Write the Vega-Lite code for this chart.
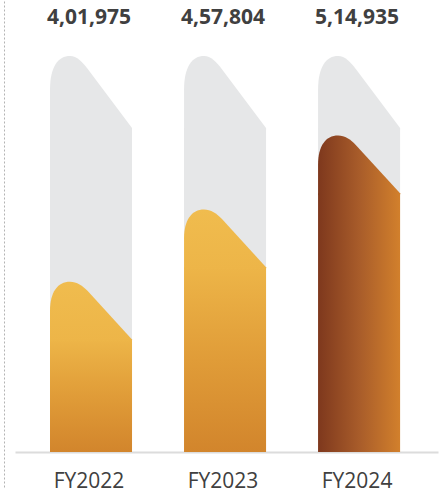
{
  "$schema": "https://vega.github.io/schema/vega-lite/v6.json",
  "autosize": "none",
  "padding": {"left": 15, "top": 0, "right": 8, "bottom": 5},
  "width": 423,
  "height": 487,
  "background": "#ffffff",
  "config": {
    "view": {"stroke": null},
    "locale": {"number": {"decimal": ".", "thousands": ",", "grouping": [3, 2], "currency": ["₹", ""]}}
  },
  "data": {
    "values": [
      {"year": "FY2022", "value": 401975},
      {"year": "FY2023", "value": 457804},
      {"year": "FY2024", "value": 514935}
    ]
  },
  "encoding": {
    "x": {
      "field": "year",
      "type": "nominal",
      "title": null,
      "scale": {"paddingInner": 0.388, "paddingOuter": 0.272, "align": 0.48},
      "axis": {
        "orient": "bottom",
        "offset": -35,
        "ticks": false,
        "domainColor": "#DCDCDC",
        "domainWidth": 2,
        "labelAngle": 0,
        "labelFont": "Open Sans",
        "labelFontSize": 21,
        "labelColor": "#404040",
        "labelBaseline": "alphabetic",
        "labelPadding": 35,
        "labelOffset": -2
      }
    }
  },
  "layer": [
    {
      "mark": {"type": "bar", "color": "#E6E7E8"},
      "encoding": {
        "y": {
          "datum": 565400,
          "type": "quantitative",
          "title": null,
          "scale": {"domain": [288000, 664300], "zero": false, "nice": false},
          "axis": {
            "orient": "left",
            "offset": 11,
            "labels": false,
            "ticks": false,
            "grid": false,
            "title": null,
            "domainDash": [2, 2],
            "domainColor": "#B3B3B3",
            "domainWidth": 1
          }
        },
        "y2": {"datum": 315000}
      }
    },
    {
      "mark": {
        "type": "point",
        "shape": "M-1,0.05 L-1,-0.93 C-1,-1.5 -0.8,-1.756 -0.51,-1.756 C-0.35,-1.756 -0.2,-1.6 -0.08,-1.44 L1,0 L1,0.05 Z",
        "size": 6724,
        "filled": true,
        "opacity": 1,
        "strokeWidth": 0,
        "color": "#E6E7E8"
      },
      "encoding": {
        "y": {"datum": 565400, "type": "quantitative"}
      }
    },
    {
      "transform": [{"filter": "datum.year !== 'FY2024'"}],
      "mark": {
        "type": "bar",
        "color": {
          "gradient": "linear", "x1": 0, "y1": 0, "x2": 0, "y2": 1,
          "stops": [
            {"offset": 0, "color": "#EDB548"},
            {"offset": 0.5, "color": "#E09C38"},
            {"offset": 1, "color": "#D2852C"}
          ]
        }
      },
      "encoding": {
        "y": {"field": "value", "type": "quantitative"},
        "y2": {"datum": 315000}
      }
    },
    {
      "transform": [{"filter": "datum.year !== 'FY2024'"}],
      "mark": {
        "type": "point",
        "shape": "M-1,0.05 L-1,-0.7 C-1,-1.15 -0.82,-1.41 -0.51,-1.41 C-0.35,-1.41 -0.2,-1.31 -0.08,-1.18 L1,0 L1,0.05 Z",
        "size": 6724,
        "filled": true,
        "opacity": 1,
        "strokeWidth": 0,
        "color": {
          "gradient": "linear", "x1": 0, "y1": 0, "x2": 0, "y2": 1,
          "stops": [
            {"offset": 0, "color": "#F0BC4E"},
            {"offset": 1, "color": "#EDB548"}
          ]
        }
      },
      "encoding": {
        "y": {"field": "value", "type": "quantitative"}
      }
    },
    {
      "transform": [{"filter": "datum.year === 'FY2024'"}],
      "mark": {
        "type": "bar",
        "color": {
          "gradient": "linear", "x1": 0, "y1": 0, "x2": 1, "y2": 0,
          "stops": [
            {"offset": 0, "color": "#7E381D"},
            {"offset": 0.5, "color": "#A85C2A"},
            {"offset": 1, "color": "#D2802C"}
          ]
        }
      },
      "encoding": {
        "y": {"field": "value", "type": "quantitative"},
        "y2": {"datum": 315000}
      }
    },
    {
      "transform": [{"filter": "datum.year === 'FY2024'"}],
      "mark": {
        "type": "point",
        "shape": "M-1,0.05 L-1,-0.7 C-1,-1.15 -0.82,-1.41 -0.51,-1.41 C-0.35,-1.41 -0.2,-1.31 -0.08,-1.18 L1,0 L1,0.05 Z",
        "size": 6724,
        "filled": true,
        "opacity": 1,
        "strokeWidth": 0,
        "color": {
          "gradient": "linear", "x1": 0, "y1": 0, "x2": 1, "y2": 0,
          "stops": [
            {"offset": 0, "color": "#7E381D"},
            {"offset": 0.5, "color": "#A85C2A"},
            {"offset": 1, "color": "#D2802C"}
          ]
        }
      },
      "encoding": {
        "y": {"field": "value", "type": "quantitative"}
      }
    },
    {
      "mark": {
        "type": "text",
        "font": "Open Sans",
        "fontSize": 21,
        "fontWeight": "bold",
        "color": "#404040",
        "baseline": "alphabetic",
        "align": "center",
        "dy": 24,
        "dx": -2
      },
      "encoding": {
        "y": {"datum": 664300, "type": "quantitative"},
        "text": {"field": "value", "type": "quantitative", "format": ","}
      }
    }
  ]
}
